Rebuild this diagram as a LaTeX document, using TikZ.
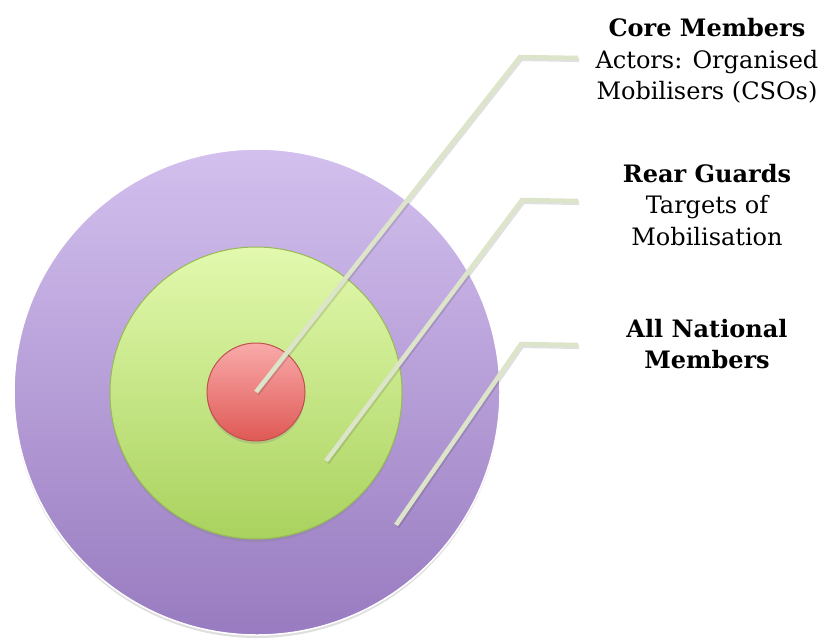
\documentclass[tikz,border=0pt]{standalone}
\usepackage{fontspec}
\setmainfont{DejaVu Serif}
\usepackage{xcolor}
\usepackage{tikz}
\usetikzlibrary{shadows,calc,positioning}
\definecolor{lilactop}{HTML}{D3C0EE}
\definecolor{lilacbot}{HTML}{987BC0}
\definecolor{limetop}{HTML}{E2F9AE}
\definecolor{limebot}{HTML}{A9D25E}
\definecolor{limeline}{HTML}{98BA55}
\definecolor{rosetop}{HTML}{F9AAAA}
\definecolor{rosebot}{HTML}{DF5955}
\definecolor{roseline}{HTML}{C0504D}
\definecolor{leadgreen}{HTML}{DCE4CA}
\tikzset{
  ring/.style = {circle, inner sep=0pt, shading=axis, drop shadow={shadow xshift=0pt, shadow yshift=-3pt, opacity=.25}},
  ring_all/.style = {ring, minimum size=486pt, top color=lilactop, bottom color=lilacbot, draw=white, line width=1.5pt},
  ring_rear/.style = {ring, minimum size=292pt, top color=limetop, bottom color=limebot, draw=limeline, line width=1pt},
  ring_core/.style = {ring, minimum size=98pt, top color=rosetop, bottom color=rosebot, draw=roseline, line width=1pt},
  leader/.style = {draw=leadgreen, line width=4.5pt, preaction={draw=black, opacity=.12, line width=4.5pt, transform canvas={shift={(1.2pt,-1.8pt)}}}},
  caption/.style = {align=center, font=\fontsize{24}{31.5}\selectfont, inner sep=0pt}
}

\begin{document}
\begin{tikzpicture}[x=1pt,y=-1pt]
  \useasboundingbox (0,0) rectangle (821,637);
  % target rings
  \node[ring_all] (all) at (257,392) {};
  \node[ring_rear] (rear) at (256,393) {};
  \node[ring_core] (core) at (256,392) {};
  % captions
  \node[caption] (coretxt) at (707,61) {\textbf{Core Members}\\Actors: Organised\\Mobilisers (CSOs)};
  \node[caption] (reartxt) at (707,205) {\textbf{Rear Guards}\\Targets of\\Mobilisation};
  \node[caption] (alltxt) at (707,344) {\textbf{All National}\\\textbf{Members}};
  % pins, knees and ends of the leaders
  \coordinate (corepin) at (core.center);
  \coordinate (rearpin) at (326,461);
  \coordinate (allpin) at (396,525);
  \coordinate (coreknee) at (520,57);
  \coordinate (rearknee) at (522,200);
  \coordinate (allknee) at (521,344);
  \coordinate (coreend) at (578,58);
  \coordinate (rearend) at (578,201);
  \coordinate (allend) at (578,345);
  \draw[leader] (corepin) -- (coreknee) -- (coreend);
  \draw[leader] (rearpin) -- (rearknee) -- (rearend);
  \draw[leader] (allpin) -- (allknee) -- (allend);
\end{tikzpicture}
\end{document}
